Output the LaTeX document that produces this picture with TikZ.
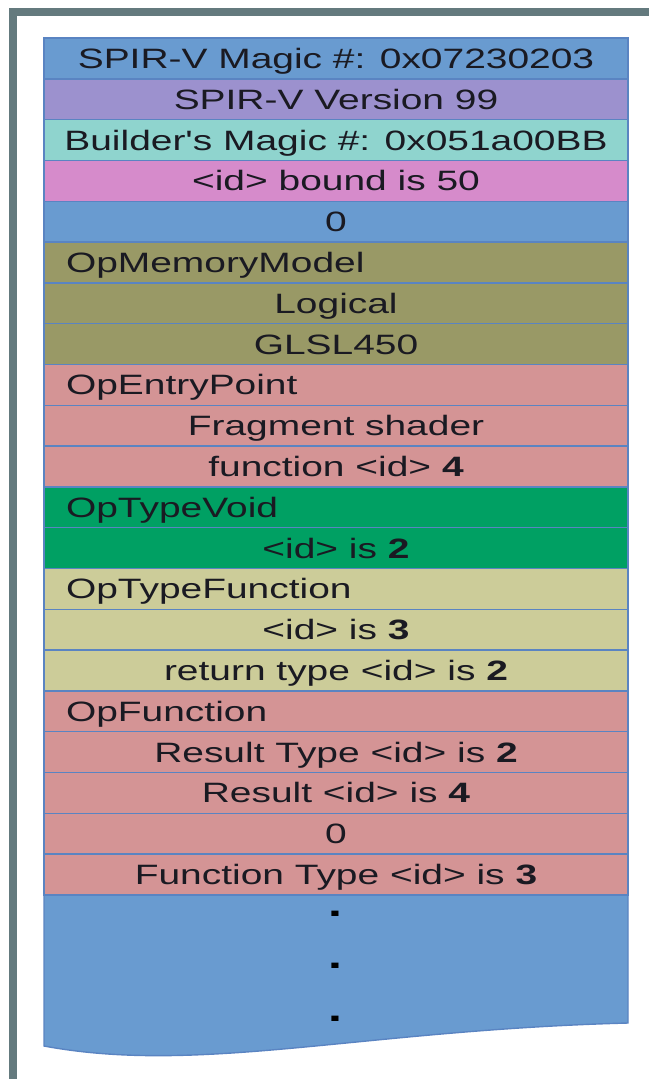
\documentclass[tikz,border=0pt]{standalone}
\usepackage{fontspec}
\newfontfamily\rowfont{Liberation Sans}[FakeStretch=1.39]
\definecolor{framegray}{HTML}{647A7E}
\definecolor{rowline}{HTML}{5A84C2}
\definecolor{ink}{HTML}{1A1A22}
\definecolor{cblue}{HTML}{699BD0}
\definecolor{cpurple}{HTML}{9C91CE}
\definecolor{cteal}{HTML}{8FD4CE}
\definecolor{cpink}{HTML}{D68BCB}
\definecolor{colive}{HTML}{999966}
\definecolor{cred}{HTML}{D49495}
\definecolor{cgreen}{HTML}{00A063}
\definecolor{ckhaki}{HTML}{CCCC99}
\tikzset{
  cell/.style={draw=rowline, line width=1.4pt, minimum width=584pt,
    minimum height=40.8pt, inner sep=0pt, outer sep=0pt,
    text height=20pt, text depth=0pt, text=ink,
    font=\rowfont\fontsize{28}{30}\selectfont},
  lcell/.style={cell, text width=540pt, align=left},
  dotmark/.style={inner sep=0pt, anchor=base, text=black,
    font=\rowfont\fontsize{36}{38}\selectfont\bfseries},
}
\begin{document}
\begin{tikzpicture}[x=1pt,y=-1pt]
\useasboundingbox (0,0) rectangle (649,1079);
% surrounding frame (top and left bars)
\fill[framegray] (9,8) rectangle (649,16);
\fill[framegray] (9,8) rectangle (17,1079);
% continuation block with wavy lower edge
\path[fill=cblue, draw=rowline, line width=1.4pt]
  (44,895) -- (628,895) -- (628,1023)
  .. controls (360,1030) and (200,1075) .. (44,1046) -- cycle;
% header words
\node[cell, fill=cblue]   (r1)  at (336,58.4)  {SPIR-V Magic \#: 0x07230203};
\node[cell, fill=cpurple] (r2)  at (336,99.2)  {SPIR-V Version 99};
\node[cell, fill=cteal]   (r3)  at (336,140.0) {Builder's Magic \#: 0x051a00BB};
\node[cell, fill=cpink]   (r4)  at (336,180.8) {<id> bound is 50};
\node[cell, fill=cblue]   (r5)  at (336,221.6) {0};
% OpMemoryModel
\node[lcell, fill=colive] (r6)  at (336,262.4) {OpMemoryModel};
\node[cell, fill=colive]  (r7)  at (336,303.2) {Logical};
\node[cell, fill=colive]  (r8)  at (336,344.0) {GLSL450};
% OpEntryPoint
\node[lcell, fill=cred]   (r9)  at (336,384.8) {OpEntryPoint};
\node[cell, fill=cred]    (r10) at (336,425.6) {Fragment shader};
\node[cell, fill=cred]    (r11) at (336,466.4) {function <id> \textbf{4}};
% OpTypeVoid
\node[lcell, fill=cgreen] (r12) at (336,507.2) {OpTypeVoid};
\node[cell, fill=cgreen]  (r13) at (336,548.0) {<id> is \textbf{2}};
% OpTypeFunction
\node[lcell, fill=ckhaki] (r14) at (336,588.8) {OpTypeFunction};
\node[cell, fill=ckhaki]  (r15) at (336,629.6) {<id> is \textbf{3}};
\node[cell, fill=ckhaki]  (r16) at (336,670.4) {return type <id> is \textbf{2}};
% OpFunction
\node[lcell, fill=cred]   (r17) at (336,711.2) {OpFunction};
\node[cell, fill=cred]    (r18) at (336,752.0) {Result Type <id> is \textbf{2}};
\node[cell, fill=cred]    (r19) at (336,792.8) {Result <id> is \textbf{4}};
\node[cell, fill=cred]    (r20) at (336,833.6) {0};
\node[cell, fill=cred]    (r21) at (336,874.4) {Function Type <id> is \textbf{3}};
% ellipsis dots
\node[dotmark] (d1) at (335,916) {.};
\node[dotmark] (d2) at (335,968) {.};
\node[dotmark] (d3) at (335,1021) {.};
\end{tikzpicture}
\end{document}
